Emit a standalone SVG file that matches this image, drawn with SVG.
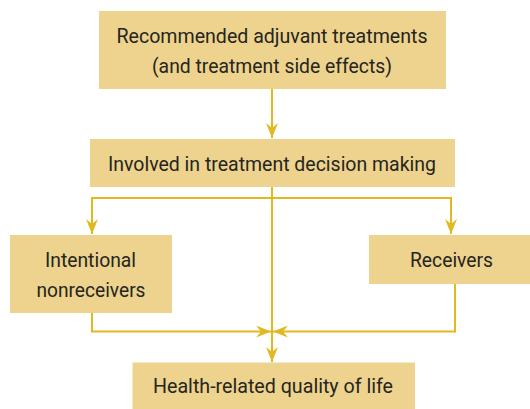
<svg xmlns="http://www.w3.org/2000/svg" width="530" height="409" viewBox="0 0 530 409">
<style>
.box{fill:#EDD38D;}
.t{font-family:Roboto,"Liberation Sans",sans-serif;font-size:20.5px;fill:#262520;text-anchor:middle;}
.c{fill:none;stroke:#E2B81E;stroke-width:2;}
</style>
<defs>
<marker id="ah" viewBox="0 0 15 12" refX="15" refY="6" markerWidth="15" markerHeight="12" markerUnits="userSpaceOnUse" orient="auto">
<path d="M0,0 L15,6 L0,12 L5,6 Z" fill="#E2B81E"/>
</marker>
</defs>
<g id="connectors">
<path class="c" d="M272,89 V138" marker-end="url(#ah)"/>
<path class="c" d="M272,187 V362" marker-end="url(#ah)"/>
<path class="c" d="M272,198 H92 V234" marker-end="url(#ah)"/>
<path class="c" d="M272,198 H451 V234" marker-end="url(#ah)"/>
<path class="c" d="M92,313 V331.5 H271" marker-end="url(#ah)"/>
<path class="c" d="M455,284 V331.5 H273" marker-end="url(#ah)"/>
</g>
<g id="n1">
<rect class="box" x="99" y="11" width="347" height="78"/>
<text class="t" x="272" y="43" textLength="311" lengthAdjust="spacingAndGlyphs">Recommended adjuvant treatments</text>
<text class="t" x="272" y="73" textLength="240" lengthAdjust="spacingAndGlyphs">(and treatment side effects)</text>
</g>
<g id="n2">
<rect class="box" x="90" y="139" width="365" height="48"/>
<text class="t" x="272" y="171" textLength="328" lengthAdjust="spacingAndGlyphs">Involved in treatment decision making</text>
</g>
<g id="n3">
<rect class="box" x="10" y="235" width="162" height="78"/>
<text class="t" x="90.5" y="266.5" textLength="91" lengthAdjust="spacingAndGlyphs">Intentional</text>
<text class="t" x="91" y="297" textLength="109" lengthAdjust="spacingAndGlyphs">nonreceivers</text>
</g>
<g id="n4">
<rect class="box" x="369" y="235" width="161" height="49"/>
<text class="t" x="451.5" y="266.5" textLength="83" lengthAdjust="spacingAndGlyphs">Receivers</text>
</g>
<g id="n5">
<rect class="box" x="132.5" y="362.5" width="282.5" height="46.5"/>
<text class="t" x="273" y="393" textLength="240" lengthAdjust="spacingAndGlyphs">Health-related quality of life</text>
</g>
</svg>
